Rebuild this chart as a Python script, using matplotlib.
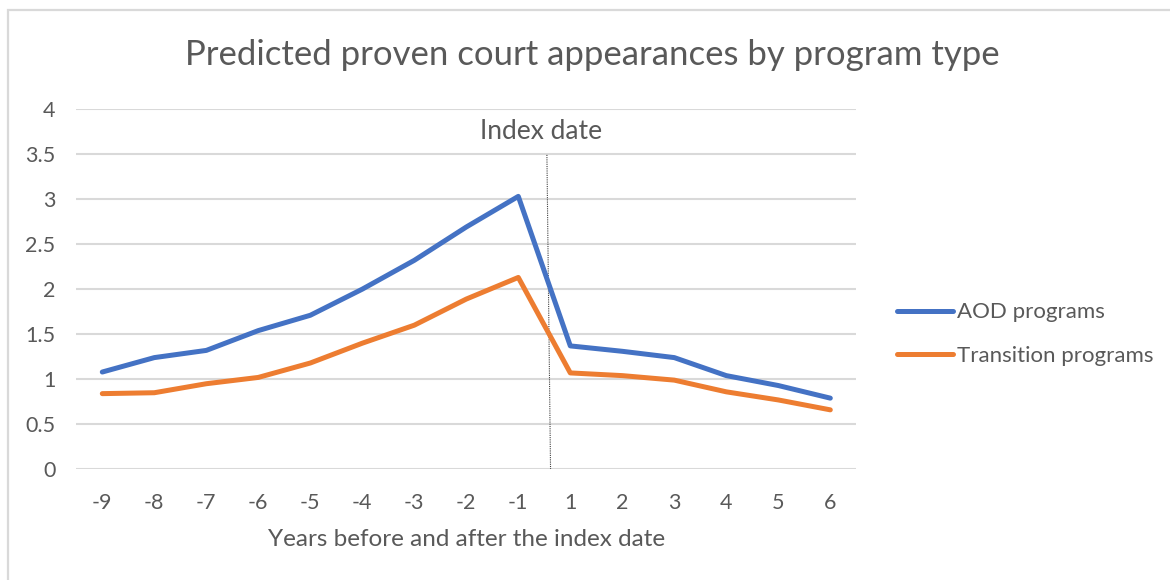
import matplotlib
matplotlib.use("Agg")
import matplotlib.pyplot as plt
from matplotlib.patches import Rectangle

years = ["-9", "-8", "-7", "-6", "-5", "-4", "-3", "-2", "-1", "1", "2", "3", "4", "5", "6"]
aod = [1.08, 1.24, 1.32, 1.54, 1.71, 2.00, 2.32, 2.69, 3.03, 1.37, 1.31, 1.24, 1.04, 0.93, 0.79]
transition = [0.84, 0.85, 0.95, 1.02, 1.18, 1.40, 1.60, 1.89, 2.13, 1.07, 1.04, 0.99, 0.86, 0.77, 0.66]
index_line_x = [8.62, 8.55]
index_line_y = [0.0, 3.5]
yticks = [0, 0.5, 1, 1.5, 2, 2.5, 3, 3.5, 4]
ytick_labels = ["0", "0.5", "1", "1.5", "2", "2.5", "3", "3.5", "4"]

plt.rcParams['font.family'] = ['Lato', 'DejaVu Sans']
TXT = "#595959"
GRID = "#d9d9d9"

W, H = 1170, 580
fig = plt.figure(figsize=(W / 100, H / 100), dpi=100)
ax = fig.add_axes([76.3 / W, 1 - 469.3 / H, 780 / W, (469.3 - 109) / H])

x = list(range(len(years)))
ax.plot(x, aod, color="#4472C4", lw=3.6, solid_capstyle="round", solid_joinstyle="round", label="AOD programs", zorder=3)
ax.plot(x, transition, color="#ED7D31", lw=3.6, solid_capstyle="round", solid_joinstyle="round", label="Transition programs", zorder=3)
ax.plot(index_line_x, index_line_y, color="#404040", lw=0.8, ls=(0, (1, 1)), zorder=2)
ax.text(8.44, 3.75, "Index date", ha="center", va="center", fontsize=19, color=TXT)

ax.set_xlim(-0.5, len(years) - 0.5)
ax.set_ylim(0, 4)
ax.set_xticks(x)
ax.set_xticklabels(years)
ax.set_yticks(yticks)
ax.set_yticklabels(ytick_labels)
ax.tick_params(axis="both", length=0, colors=TXT, labelsize=15.5)
ax.tick_params(axis="x", pad=17)
ax.tick_params(axis="y", pad=15)
for s in ax.spines.values():
    s.set_visible(False)
ax.grid(axis="y", color=GRID, lw=1.5, zorder=0)
ax.set_axisbelow(True)
ax.set_xlabel("Years before and after the index date", fontsize=17.5, color=TXT, va="center")
ax.xaxis.set_label_coords(0.5003, (469.3 - 540) / (469.3 - 109))

fig.text(592.5 / W, 1 - 55 / H, "Predicted proven court appearances by program type",
         ha="center", va="center", fontsize=25, color=TXT)

leg = ax.legend(loc="center left", bbox_to_anchor=(877 / W, 1 - 334 / H), bbox_transform=fig.transFigure,
                frameon=False, fontsize=16, handlelength=2.5, handletextpad=0.2, labelspacing=1.05,
                labelcolor=TXT)

fig.patches.append(Rectangle((8 / W, -0.1), 1.2, 1 - 10 / H + 0.1, transform=fig.transFigure,
                             fill=False, edgecolor=GRID, lw=1.6))

fig.savefig("out.png", dpi=100)
